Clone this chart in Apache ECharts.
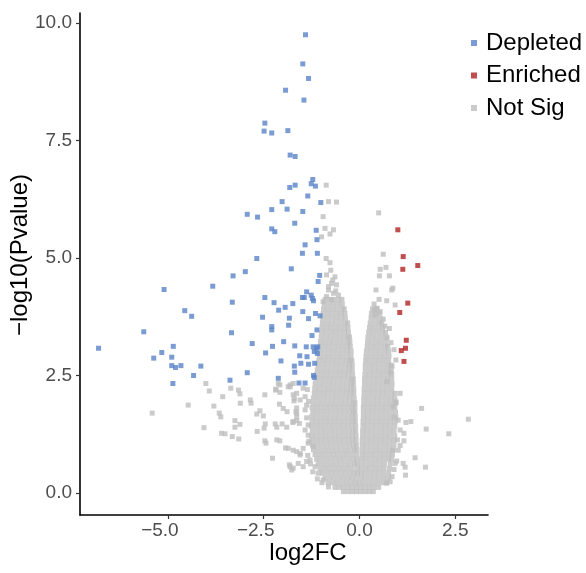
<!DOCTYPE html>
<html><head><meta charset="utf-8">
<script src="https://cdn.jsdelivr.net/npm/echarts@6/dist/echarts.min.js"></script>
<style>html,body{margin:0;padding:0;background:#fff}#c{width:586px;height:573px}</style>
</head><body><div id="c"></div>
<script>
const legendNames = ['Depleted', 'Enriched', 'Not Sig'];
const xTicks = [-5, -2.5, 0, 2.5];
const xTickLabels = ['−5.0', '−2.5', '0.0', '2.5'];
const yTicks = [0, 2.5, 5, 7.5, 10];
const yTickLabels = ['0.0', '2.5', '5.0', '7.5', '10.0'];

const enriched = [[1.00,5.60],[1.14,5.03],[1.13,4.76],[1.52,4.84],[1.26,4.04],[1.05,3.84],[1.22,3.25],[1.20,3.08],[1.09,3.03],[1.16,2.80]];

const depleted = [
[-1.41,9.75],[-1.48,9.13],[-1.33,8.82],[-1.93,8.57],[-1.45,8.36],
[-2.47,7.87],[-2.49,7.70],[-2.29,7.66],[-1.87,7.71],[-1.81,7.19],[-1.68,7.16],
[-1.22,6.67],[-1.26,6.58],[-1.15,6.53],[-1.68,6.55],[-1.82,6.50],[-1.35,6.32],
[-2.02,6.20],[-1.01,6.18],[-2.29,6.03],[-1.89,6.04],[-1.48,5.99],[-2.93,5.93],[-2.66,5.87],
[-1.69,5.74],[-2.29,5.62],[-2.21,5.56],[-1.13,5.59],[-1.11,5.39],[-1.42,5.28],[-1.49,5.10],[-1.10,5.10],
[-2.68,4.99],[-1.78,4.77],[-2.98,4.71],[-3.30,4.62],[-1.04,4.63],[-1.08,4.50],
[-5.10,4.33],[-3.83,4.40],[-1.38,4.28],[-1.49,4.16],[-1.44,4.16],[-1.26,4.21],[-1.23,4.14],[-1.20,4.09],
[-2.47,4.16],[-2.23,4.05],[-1.74,4.03],[-1.94,3.95],[-2.11,3.89],[-3.32,4.06],[-4.56,3.88],[-4.38,3.76],
[-1.48,3.86],[-1.15,3.82],[-1.03,3.77],[-2.53,3.74],[-1.83,3.72],[-1.33,3.71],[-1.85,3.57],[-2.29,3.54],[-2.29,3.47],[-1.11,3.47],
[-3.34,3.41],[-5.63,3.43],[-1.24,3.35],[-1.98,3.22],[-2.80,3.18],[-2.27,3.12],[-1.69,3.13],[-1.39,3.11],[-1.21,3.11],[-1.09,3.11],
[-1.18,3.01],[-1.10,2.97],[-2.45,2.98],[-1.56,2.92],[-1.37,2.90],[-1.53,2.76],[-2.05,2.81],[-1.33,2.74],[-1.17,2.76],[-1.70,2.70],
[-1.69,2.57],[-2.93,2.56],[-1.20,2.50],[-1.18,2.46],[-2.12,2.44],[-3.38,2.40],[-1.58,2.34],[-1.42,2.34],
[-6.81,3.08],[-4.86,3.12],[-5.16,2.99],[-5.37,2.87],[-4.90,2.89],[-4.90,2.71],[-4.80,2.67],[-4.66,2.71],[-4.14,2.70],[-4.33,2.50],[-4.87,2.33],
[-1.12,3.08]
];

// Not-significant core, listed row by row: [y, x values read along that row]
const notSigRows = [
[0.03,[-0.42,-0.3,-0.19,-0.08,0.03,0.14,0.25,0.36]],
[0.12,[-0.64,-0.53,-0.42,-0.3,-0.19,-0.08,0.03,0.14,0.26,0.38,0.5]],
[0.22,[-0.82,-0.7,-0.58,-0.46,-0.34,-0.22,-0.11,-0.01,0.1,0.22,0.34,0.46,0.58,0.7]],
[0.32,[-0.9,-0.78,-0.66,-0.54,-0.42,-0.3,-0.19,-0.08,0.04,0.15,0.27,0.39,0.51,0.63,0.75]],
[0.42,[-0.97,-0.85,-0.73,-0.61,-0.49,-0.37,-0.25,-0.14,-0.05,0.04,0.15,0.27,0.39,0.51,0.63,0.76]],
[0.52,[-1.03,-0.91,-0.79,-0.67,-0.55,-0.43,-0.31,-0.19,-0.06,0.04,0.16,0.28,0.4,0.52,0.64,0.78]],
[0.62,[-1.08,-0.96,-0.84,-0.72,-0.6,-0.48,-0.36,-0.24,-0.13,-0.06,0.05,0.17,0.29,0.41,0.53,0.65,0.8]],
[0.72,[-1.12,-1.0,-0.88,-0.76,-0.64,-0.52,-0.4,-0.28,-0.16,-0.07,0.05,0.16,0.28,0.4,0.52,0.64,0.76,0.84]],
[0.82,[-1.16,-1.04,-0.92,-0.8,-0.68,-0.56,-0.44,-0.32,-0.2,-0.08,0.06,0.17,0.29,0.41,0.53,0.65,0.77,0.86]],
[0.92,[-1.2,-1.08,-0.96,-0.84,-0.72,-0.6,-0.48,-0.36,-0.24,-0.13,-0.08,0.06,0.18,0.3,0.42,0.54,0.66,0.78,0.88]],
[1.02,[-1.22,-1.1,-0.98,-0.86,-0.74,-0.62,-0.5,-0.38,-0.26,-0.15,-0.08,0.07,0.18,0.3,0.42,0.54,0.66,0.78,0.9]],
[1.12,[-1.24,-1.12,-1.0,-0.88,-0.76,-0.64,-0.52,-0.4,-0.28,-0.17,-0.09,0.07,0.19,0.31,0.43,0.55,0.67,0.79,0.9]],
[1.22,[-1.25,-1.13,-1.01,-0.89,-0.77,-0.65,-0.53,-0.41,-0.29,-0.18,-0.09,0.08,0.2,0.32,0.44,0.56,0.68,0.8,0.92]],
[1.32,[-1.23,-1.11,-0.99,-0.87,-0.75,-0.63,-0.51,-0.39,-0.27,-0.16,-0.1,0.08,0.19,0.31,0.43,0.55,0.67,0.79,0.9]],
[1.42,[-1.26,-1.14,-1.02,-0.9,-0.78,-0.66,-0.54,-0.42,-0.3,-0.19,-0.1,0.09,0.2,0.32,0.44,0.56,0.68,0.8,0.92]],
[1.52,[-1.24,-1.12,-1.0,-0.88,-0.76,-0.64,-0.52,-0.4,-0.28,-0.17,-0.11,0.09,0.21,0.33,0.45,0.57,0.69,0.81,0.93]],
[1.62,[-1.25,-1.13,-1.01,-0.89,-0.77,-0.65,-0.53,-0.41,-0.29,-0.18,-0.11,0.1,0.21,0.33,0.45,0.57,0.69,0.81,0.9]],
[1.72,[-1.22,-1.1,-0.98,-0.86,-0.74,-0.62,-0.5,-0.38,-0.26,-0.16,-0.12,0.1,0.22,0.34,0.46,0.58,0.7,0.82,0.94]],
[1.82,[-1.24,-1.12,-1.0,-0.88,-0.76,-0.64,-0.52,-0.4,-0.28,-0.18,-0.12,0.1,0.22,0.34,0.46,0.58,0.7,0.82,0.92]],
[1.92,[-1.21,-1.09,-0.97,-0.85,-0.73,-0.61,-0.49,-0.37,-0.25,-0.15,-0.12,0.11,0.23,0.35,0.47,0.59,0.71,0.83,0.95]],
[2.02,[-1.2,-1.08,-0.96,-0.84,-0.72,-0.6,-0.48,-0.36,-0.25,-0.14,0.11,0.23,0.35,0.47,0.59,0.71,0.83,0.92]],
[2.12,[-1.18,-1.06,-0.94,-0.82,-0.7,-0.58,-0.46,-0.34,-0.23,-0.15,0.12,0.24,0.36,0.48,0.6,0.72,0.84,0.93]],
[2.22,[-1.17,-1.05,-0.93,-0.81,-0.69,-0.57,-0.45,-0.33,-0.22,-0.15,0.12,0.24,0.36,0.48,0.6,0.72,0.84]],
[2.32,[-1.16,-1.04,-0.92,-0.8,-0.68,-0.56,-0.44,-0.32,-0.21,-0.16,0.13,0.25,0.37,0.49,0.61,0.73,0.85]],
[2.42,[-1.14,-1.02,-0.9,-0.78,-0.66,-0.54,-0.42,-0.3,-0.2,-0.16,0.13,0.25,0.37,0.49,0.61,0.73,0.84]],
[2.52,[-1.12,-1.0,-0.88,-0.76,-0.64,-0.52,-0.4,-0.29,-0.18,0.14,0.26,0.38,0.5,0.62,0.74,0.84]],
[2.62,[-1.1,-0.98,-0.86,-0.74,-0.62,-0.5,-0.38,-0.27,-0.19,0.15,0.27,0.39,0.51,0.63,0.75,0.83]],
[2.72,[-1.08,-0.96,-0.84,-0.72,-0.6,-0.48,-0.36,-0.26,-0.19,0.15,0.27,0.39,0.51,0.63,0.75,0.82]],
[2.82,[-1.06,-0.94,-0.82,-0.7,-0.58,-0.46,-0.34,-0.24,-0.2,0.16,0.28,0.4,0.52,0.64,0.76]],
[2.92,[-1.05,-0.93,-0.81,-0.69,-0.57,-0.45,-0.33,-0.22,0.17,0.29,0.41,0.53,0.65,0.77]],
[3.02,[-1.04,-0.92,-0.8,-0.68,-0.56,-0.44,-0.32,-0.22,0.18,0.3,0.42,0.54,0.66,0.76]],
[3.12,[-1.03,-0.91,-0.79,-0.67,-0.55,-0.43,-0.31,-0.24,0.2,0.32,0.44,0.56,0.68,0.74]],
[3.22,[-1.02,-0.9,-0.78,-0.66,-0.54,-0.42,-0.3,-0.25,0.21,0.33,0.45,0.57,0.69]],
[3.32,[-1.0,-0.88,-0.76,-0.64,-0.52,-0.4,-0.3,-0.26,0.22,0.34,0.46,0.58,0.7]],
[3.42,[-0.99,-0.87,-0.75,-0.63,-0.51,-0.39,-0.29,0.24,0.36,0.48,0.6,0.68]],
[3.52,[-0.98,-0.86,-0.74,-0.62,-0.5,-0.38,-0.3,0.26,0.38,0.5,0.6]],
[3.62,[-0.97,-0.85,-0.73,-0.61,-0.49,-0.37,-0.31,0.28,0.4,0.52,0.58]],
[3.72,[-0.96,-0.84,-0.72,-0.6,-0.48,-0.37,0.3,0.42,0.54]],
[3.82,[-0.95,-0.83,-0.71,-0.59,-0.47,-0.38,0.31,0.43,0.52]],
[3.92,[-0.94,-0.82,-0.7,-0.58,-0.46,-0.4,0.34,0.46]],
[4.02,[-0.92,-0.8,-0.68,-0.56,-0.45,0.38]],
[4.12,[-0.9,-0.78,-0.66,-0.54,-0.46]]
];

// Not-significant outliers read one by one
const notSigScatter = [
[-0.87,6.55],[-0.81,6.20],[-0.60,6.19],[-0.95,5.88],[-0.90,5.63],[-0.68,5.60],[-0.77,5.51],[-0.99,5.45],
[-0.87,4.99],[-0.77,4.90],[-0.75,4.74],[-0.64,4.60],[-0.86,4.64],[-0.73,4.46],[-0.81,4.32],[-0.68,4.25],
[-0.55,4.21],[-0.70,4.53],[-0.81,4.39],[-0.60,4.43],[-0.86,4.18],[-0.73,4.11],[-0.95,4.07],[-0.62,4.30],
[0.50,5.96],[0.62,5.08],[0.54,4.76],[0.69,4.80],[0.78,4.62],[0.52,4.62],[0.43,4.32],[0.87,4.36],[0.84,4.32],
[0.51,4.12],[0.71,4.09],[0.93,4.00],[0.39,3.89],[0.45,3.93],[0.54,3.86],[0.40,3.79],[0.66,3.55],[0.72,3.30],[0.62,3.70],
[0.82,3.20],[0.90,3.05],[0.78,3.50],[0.85,2.70],
[0.95,2.83],[0.81,2.56],[1.06,2.12],[1.62,1.80],[1.34,1.52],[1.74,1.36],[2.33,1.26],[2.84,1.57],[1.45,0.75],
[1.72,0.55],[1.14,0.63],[1.19,0.55],[1.20,0.38],[0.95,1.62],[1.06,1.34],[1.16,1.27],[1.21,1.50],[0.95,1.94],
[0.88,1.84],[1.16,1.11],[1.06,1.01],[1.01,0.91],[0.97,0.68],[0.71,2.37],[0.80,0.24],[0.93,1.91],[1.01,1.55],
[0.99,1.13],[0.87,0.91],[0.93,0.63],[0.85,0.35],[0.90,0.50],[0.71,0.21],
[-5.41,1.70],[-4.47,1.87],[-4.06,1.39],[-4.01,2.33],[-3.92,2.17],[-3.57,2.05],[-3.80,1.85],[-3.66,1.70],
[-3.62,1.62],[-3.60,1.27],[-3.51,1.26],[-3.36,2.23],[-3.32,1.20],[-3.15,1.15],[-3.25,1.54],[-3.12,1.46],
[-3.25,1.40],[-3.16,2.19],[-3.12,2.11],[-3.11,1.91],[-2.85,1.98],[-2.83,1.91],[-2.68,1.68],[-2.60,1.75],
[-2.51,1.64],[-2.67,1.31],[-2.47,2.09],[-2.46,1.47],[-2.49,1.38],[-2.47,1.11],[-2.44,1.06],[-2.27,0.74],
[-2.16,1.13],[-2.08,1.11],[-2.20,1.47],[-2.16,1.40],[-2.18,2.21],[-2.08,2.30],[-2.09,1.89],[-1.99,1.80],
[-1.89,1.73],[-2.02,1.47],[-1.90,1.40],[-1.93,0.96],[-1.83,0.60],[-1.77,0.49],[-1.81,2.30],[-1.74,1.50],
[-1.64,1.54],[-1.71,1.96],[-1.64,1.81],[-1.64,1.70],[-1.73,0.91],[-1.64,0.88],[-1.55,0.81],[-1.47,0.95],
[-1.60,0.63],[-1.47,0.56],[-1.38,0.67],[-2.12,2.33],[-2.19,2.19],[-2.08,2.14],[-1.81,2.26],[-1.73,2.33],
[-1.64,2.12],[-1.47,2.23],[-1.42,2.05],[-1.70,2.01],[-1.86,0.95],[-1.55,0.84],[-1.81,0.56],[-1.73,0.53],
[-1.66,1.73],[-1.64,1.62],[-1.73,1.52],[-1.57,1.48],[-1.42,1.34],[-1.34,1.23],[-1.55,1.98],[-1.38,1.87],
[-1.42,1.77],[-1.86,2.26],[-1.73,2.09],[-1.36,2.20],[-1.33,1.95],[-1.38,1.60],[-1.34,1.45],[-1.32,1.10],
[-1.35,0.80],[-1.28,0.62],[-1.22,0.45],[-1.10,0.30],[-0.98,0.22],[-1.34,1.06],[-1.21,0.99],[-1.29,0.70],
[-1.16,0.56],[-1.08,0.42],[-0.95,0.28],[-0.81,0.13]
];

const notSig = notSigRows.flatMap(r => r[1].map(x => [x, r[0]])).concat(notSigScatter);

const FONT = '"Liberation Sans", Arial, Helvetica, sans-serif';
const chart = echarts.init(document.getElementById('c'), null, {renderer: 'canvas'});
const marker = {type: 'scatter', symbol: 'rect', symbolSize: 5};
chart.setOption({
  animation: false,
  backgroundColor: '#fff',
  grid: {left: 80, right: 98, top: 13, bottom: 58, containLabel: false, outerBoundsMode: 'none'},
  legend: {
    data: legendNames, orient: 'vertical', left: 466, top: 26, icon: 'rect',
    itemWidth: 6, itemHeight: 6, itemGap: 8.5,
    textStyle: {fontSize: 24, color: '#000', fontFamily: FONT, lineHeight: 24, padding: [0, 0, 0, 4]}
  },
  xAxis: {
    type: 'value', min: -7.294, max: 3.353,
    splitLine: {show: false},
    axisLine: {onZero: false, lineStyle: {color: '#000', width: 1.6}},
    axisTick: {customValues: xTicks, length: 4, lineStyle: {color: '#333', width: 1.2}},
    axisLabel: {
      customValues: xTicks, margin: 6, color: '#4D4D4D', fontSize: 19, fontFamily: FONT,
      formatter: v => {
        const i = xTicks.indexOf(v);
        const s = i >= 0 ? xTickLabels[i] : '';
        return v < 0 ? '{n|' + s + '}' : s;
      },
      rich: {n: {fontSize: 19, color: '#4D4D4D', fontFamily: FONT, padding: [0, 16, 0, 0]}}
    },
    name: 'log2FC', nameLocation: 'middle', nameGap: 26, nameMoveOverlap: false,
    nameTextStyle: {fontSize: 24, color: '#000', fontFamily: FONT, padding: [0, 0, 0, 48]}
  },
  yAxis: {
    type: 'value', min: -0.468, max: 10.213,
    splitLine: {show: false},
    axisLine: {onZero: false, lineStyle: {color: '#000', width: 1.6}},
    axisTick: {customValues: yTicks, length: 4, lineStyle: {color: '#333', width: 1.2}},
    axisLabel: {
      customValues: yTicks, margin: 8, color: '#4D4D4D', fontSize: 19, fontFamily: FONT,
      padding: [0, 0, 10, 0],
      formatter: v => { const i = yTicks.indexOf(v); return i >= 0 ? yTickLabels[i] : ''; }
    },
    name: '−log10(Pvalue)', nameLocation: 'middle', nameGap: 48, nameMoveOverlap: false,
    nameTextStyle: {fontSize: 24, color: '#000', fontFamily: FONT, padding: [0, 0, 0, 18]}
  },
  series: [
    Object.assign({}, marker, {name: 'Not Sig', data: notSig, z: 1, itemStyle: {color: '#BEBEBE'}, large: false}),
    Object.assign({}, marker, {name: 'Depleted', data: depleted, z: 2, itemStyle: {color: '#5A83C8'}}),
    Object.assign({}, marker, {name: 'Enriched', data: enriched, z: 3, itemStyle: {color: '#B22222'}})
  ]
});
</script>
</body></html>
